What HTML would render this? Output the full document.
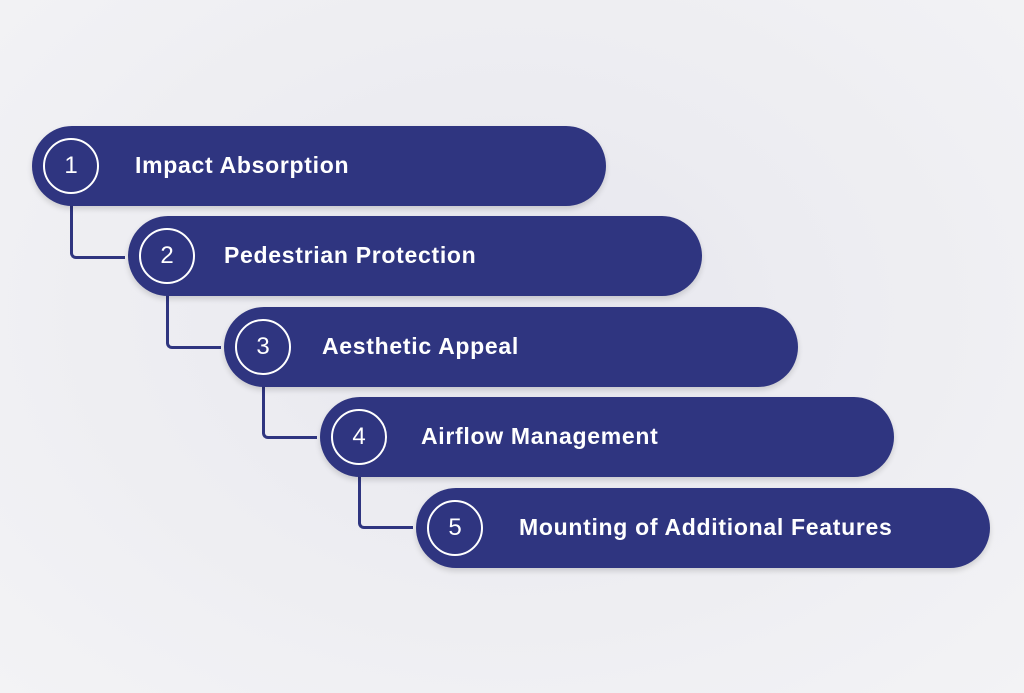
<!DOCTYPE html>
<html><head><style>
html,body{margin:0;padding:0}
body{width:1024px;height:693px;position:relative;overflow:hidden;background:radial-gradient(ellipse at 50% 45%,#e6e6ee 0%,#ececf1 40%,#f3f3f5 100%);font-family:"Liberation Sans",sans-serif}
.p{position:absolute;width:574px;height:80px;border-radius:40px;background:#2f3580;box-shadow:0 3px 6px rgba(0,0,0,.15)}
.c{position:absolute;left:11px;top:12px;width:52px;height:52px;border:2.5px solid #fff;border-radius:50%;color:#fff;font-size:24px;text-align:center;line-height:52px}
.t{position:absolute;left:101px;top:0;line-height:78px;color:#fff;font-size:23px;letter-spacing:0.7px;font-weight:bold}
.l{position:absolute;border-left:3px solid #2f3580;border-bottom:3px solid #2f3580;border-bottom-left-radius:6px;width:52px;height:52px}
</style></head><body>
<div class="l" style="left:70px;top:204px"></div>
<div class="l" style="left:166px;top:294px"></div>
<div class="l" style="left:262px;top:384px"></div>
<div class="l" style="left:358px;top:474px"></div>
<div class="p" style="left:32px;top:126px"><div class="c">1</div><div class="t" style="left:103px">Impact Absorption</div></div>
<div class="p" style="left:128px;top:216px"><div class="c">2</div><div class="t" style="left:96px">Pedestrian Protection</div></div>
<div class="p" style="left:224px;top:307px"><div class="c">3</div><div class="t" style="left:98px">Aesthetic Appeal</div></div>
<div class="p" style="left:320px;top:397px"><div class="c">4</div><div class="t">Airflow Management</div></div>
<div class="p" style="left:416px;top:488px"><div class="c">5</div><div class="t" style="left:103px">Mounting of Additional Features</div></div>
</body></html>
